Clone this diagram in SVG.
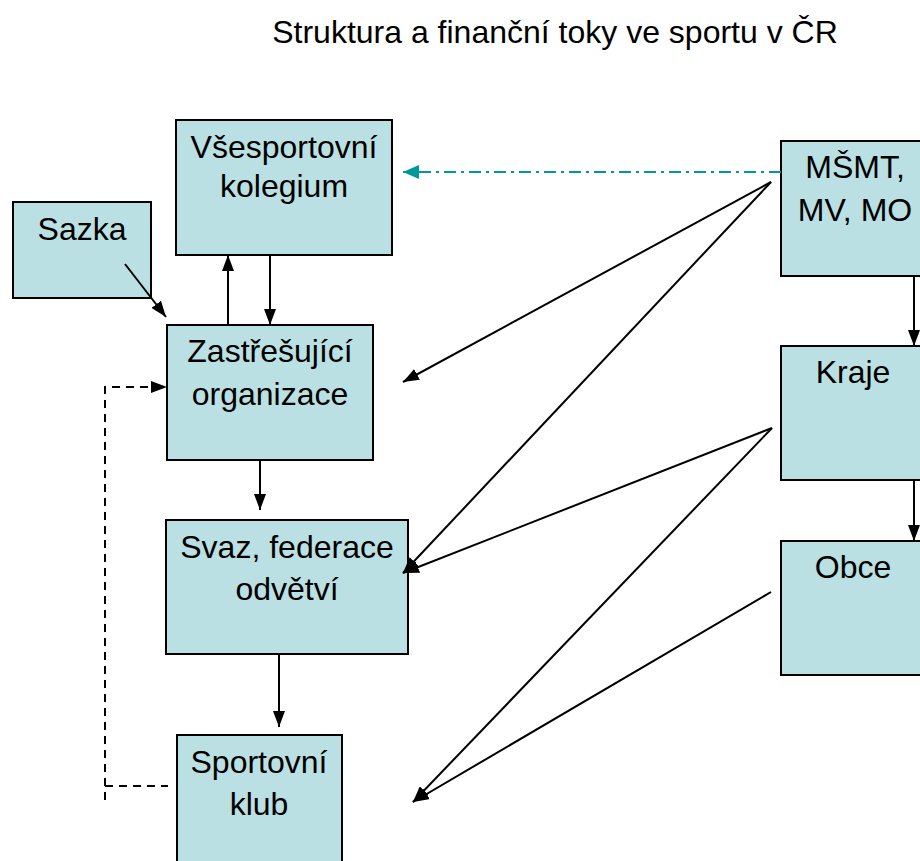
<svg xmlns="http://www.w3.org/2000/svg" width="920" height="861" viewBox="0 0 920 861">
<style>
.box{fill:#BBE0E3;stroke:#000;stroke-width:2}
.t{font-family:"Liberation Sans",Arial,sans-serif;font-size:32px;fill:#000;text-anchor:middle}
.c{stroke:#000;stroke-width:2;fill:none}
.dash{stroke-dasharray:8,6}
.teal{stroke:#009999;stroke-width:2;fill:none;stroke-dasharray:12,5,3,5}
</style>
<defs>
<marker id="ah" markerUnits="userSpaceOnUse" markerWidth="16" markerHeight="12" refX="16" refY="6" orient="auto">
<path d="M0,0 L16,6 L0,12 Z" fill="#000"/>
</marker>
<marker id="ahT" markerUnits="userSpaceOnUse" markerWidth="16" markerHeight="14" refX="16" refY="7" orient="auto">
<path d="M0,0 L16,7 L0,14 Z" fill="#009999"/>
</marker>
</defs>
<rect width="920" height="861" fill="#fff"/>
<text class="t" x="555" y="43">Struktura a finanční toky ve sportu v ČR</text>

<g id="vsesportovni">
<rect class="box" x="176" y="120" width="216" height="135"/>
<text class="t" x="284" y="158">Všesportovní</text>
<text class="t" x="284" y="197">kolegium</text>
</g>
<g id="sazka">
<rect class="box" x="13" y="202" width="138" height="96"/>
<text class="t" x="82" y="240">Sazka</text>
</g>
<g id="zastresujici">
<rect class="box" x="167" y="325" width="206" height="135"/>
<text class="t" x="270" y="362">Zastřešující</text>
<text class="t" x="270" y="405">organizace</text>
</g>
<g id="svaz">
<rect class="box" x="166" y="520" width="242" height="134"/>
<text class="t" x="287" y="558">Svaz, federace</text>
<text class="t" x="287" y="600">odvětví</text>
</g>
<g id="klub">
<rect class="box" x="177" y="735" width="165" height="140"/>
<text class="t" x="259" y="773">Sportovní</text>
<text class="t" x="259" y="815">klub</text>
</g>
<g id="msmt">
<rect class="box" x="781" y="141" width="150" height="135"/>
<text class="t" x="855" y="178">MŠMT,</text>
<text class="t" x="855" y="221">MV, MO</text>
</g>
<g id="kraje">
<rect class="box" x="781" y="346" width="150" height="134"/>
<text class="t" x="853" y="383">Kraje</text>
</g>
<g id="obce">
<rect class="box" x="781" y="541" width="150" height="134"/>
<text class="t" x="853" y="578">Obce</text>
</g>

<g id="connectors">
<line class="c" x1="125" y1="264" x2="166" y2="317" marker-end="url(#ah)"/>
<line class="c" x1="228" y1="325" x2="228" y2="255" marker-end="url(#ah)"/>
<line class="c" x1="270" y1="255" x2="270" y2="325" marker-end="url(#ah)"/>
<line class="c" x1="260" y1="460" x2="260" y2="510" marker-end="url(#ah)"/>
<line class="c" x1="279" y1="654" x2="279" y2="727" marker-end="url(#ah)"/>
<line class="c" x1="914" y1="276" x2="914" y2="346" marker-end="url(#ah)"/>
<line class="c" x1="914" y1="480" x2="914" y2="541" marker-end="url(#ah)"/>
<line class="teal" x1="781" y1="172" x2="403" y2="172" marker-end="url(#ahT)"/>
<line class="c" x1="771" y1="182" x2="403" y2="382" marker-end="url(#ah)"/>
<line class="c" x1="771" y1="182" x2="403" y2="573" marker-end="url(#ah)"/>
<line class="c" x1="772" y1="428" x2="403" y2="573" marker-end="url(#ah)"/>
<line class="c" x1="772" y1="428" x2="413" y2="802" marker-end="url(#ah)"/>
<line class="c" x1="771" y1="592" x2="413" y2="802" marker-end="url(#ah)"/>
<path class="c dash" d="M105,800 L105,387 L167,387" marker-end="url(#ah)"/>
<line class="c dash" x1="105" y1="786" x2="168" y2="786"/>
</g>
</svg>
